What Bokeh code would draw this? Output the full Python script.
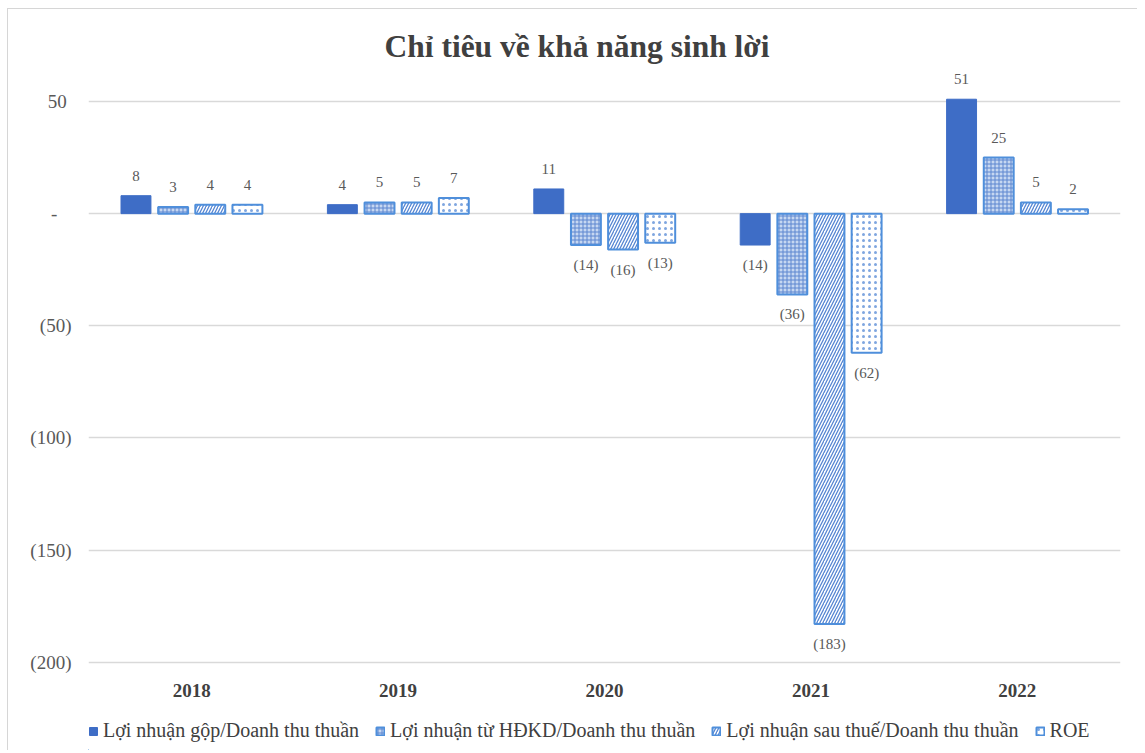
from bokeh.plotting import figure
from bokeh.models import (FactorRange, Range1d, ColumnDataSource, FixedTicker, Legend,
                          LegendItem)
from bokeh.layouts import column
from bokeh.transform import dodge
from bokeh.core.properties import value
from bokeh.embed import file_html
from bokeh.resources import INLINE

years = ["2018", "2019", "2020", "2021", "2022"]
series_names = [
    "Lợi nhuận gộp/Doanh thu thuần",
    "Lợi nhuận từ HĐKD/Doanh thu thuần",
    "Lợi nhuận sau thuế/Doanh thu thuần",
    "ROE",
]
gross_margin = [8, 4, 11, -14, 51]
operating_margin = [3, 5, -14, -36, 25]
net_margin = [4, 5, -16, -183, 5]
roe = [4, 7, -13, -62, 2]
tick_values = [50, 0, -50, -100, -150, -200]
tick_labels = ["50\u00a0", "-\u00a0\u00a0\u00a0", "(50)", "(100)", "(150)", "(200)"]

series_values = [gross_margin, operating_margin, net_margin, roe]
offsets = [-0.27, -0.09, 0.09, 0.27]
bar_w = 0.145

styles = [
    dict(fill_color="#3E6DC6", line_color="#3E6DC6", line_width=1),
    dict(fill_color="#C6D7F1", line_color="#4F8FDB", line_width=2,
         hatch_pattern="+", hatch_scale=4, hatch_color="#5B86D0", hatch_weight=1),
    dict(fill_color="white", line_color="#4F8FDB", line_width=2,
         hatch_pattern="/", hatch_scale=6, hatch_color="#5585D2", hatch_weight=1.3),
    dict(fill_color="white", line_color="#4F8FDB", line_width=2,
         hatch_pattern=".", hatch_scale=6, hatch_color="#7FA6E0", hatch_weight=0.8),
]

FONT = "Liberation Serif"

p = figure(
    x_range=FactorRange(*years),
    y_range=Range1d(-201, 64.7),
    frame_width=1032, frame_height=596,
    output_backend="svg", toolbar_location=None,
    min_border_left=80, min_border_right=17, min_border_top=59, min_border_bottom=42,
)
p.title.text = "Chỉ tiêu về khả năng sinh lời"
p.title.align = "left"
p.title.offset = 296
p.title.text_font = FONT
p.title.text_font_size = "31.5px"
p.title.text_font_style = "bold"
p.title.text_color = "#404040"
p.title.standoff = 9

p.outline_line_color = None
p.xgrid.grid_line_color = None
p.ygrid.grid_line_color = "#D9D9D9"
p.ygrid.grid_line_width = 1.5
p.yaxis.ticker = FixedTicker(ticks=tick_values)
p.yaxis.major_label_overrides = {v: s for v, s in zip(tick_values, tick_labels)}
for ax in (p.xaxis, p.yaxis):
    ax.axis_line_color = None
    ax.major_tick_line_color = None
    ax.minor_tick_line_color = None
p.yaxis.major_label_text_font = FONT
p.yaxis.major_label_text_font_size = "19px"
p.yaxis.major_label_text_color = "#595959"
p.yaxis.major_label_standoff = 11
p.xaxis.major_label_text_font = FONT
p.xaxis.major_label_text_font_size = "19px"
p.xaxis.major_label_text_font_style = "bold"
p.xaxis.major_label_text_color = "#404040"
p.xaxis.major_label_standoff = 13

for vals, off, st in zip(series_values, offsets, styles):
    labels = [str(v) if v >= 0 else f"({abs(v)})" for v in vals]
    src = ColumnDataSource(dict(year=years, val=vals, label=labels))
    p.vbar(x=dodge("year", off, range=p.x_range), top="val", bottom=0, width=bar_w,
           source=src, **st)
    pos = ColumnDataSource(dict(year=[y for y, v in zip(years, vals) if v >= 0],
                                val=[v for v in vals if v >= 0],
                                label=[l for l, v in zip(labels, vals) if v >= 0]))
    neg = ColumnDataSource(dict(year=[y for y, v in zip(years, vals) if v < 0],
                                val=[v for v in vals if v < 0],
                                label=[l for l, v in zip(labels, vals) if v < 0]))
    common = dict(text="label", text_font=value(FONT), text_font_size="15px",
                  text_color="#595959", text_align="center")
    p.text(x=dodge("year", off, range=p.x_range), y="val", source=pos,
           text_baseline="bottom", y_offset=-15, **common)
    p.text(x=dodge("year", off, range=p.x_range), y="val", source=neg,
           text_baseline="top", y_offset=12, **common)

# legend strip below the chart (its swatches use off-screen placeholder bars)
lg = figure(width=1129, height=44, x_range=Range1d(0, 1), y_range=Range1d(0, 1),
            x_axis_type=None, y_axis_type=None, output_backend="svg",
            toolbar_location=None, min_border=0)
lg.outline_line_color = None
lg.grid.visible = False
items = []
for name, st in zip(series_names, styles):
    r = lg.vbar(x=[-10], top=[-10], bottom=[-11], width=0.1, **st)
    items.append(LegendItem(label=name, renderers=[r]))
legend = Legend(items=items, orientation="horizontal", location=(0, 8),
                label_text_font=FONT, label_text_font_size="20px", label_text_color="#404040",
                glyph_width=10, glyph_height=10, label_standoff=5, spacing=16,
                label_height=22,
                border_line_color=None, background_fill_alpha=0, padding=0, margin=0)
lg.add_layout(legend)

layout = column(p, lg, spacing=0,
                styles={"margin-left": "7px", "margin-top": "8px",
                        "border-top": "1px solid #D6D6D6",
                        "border-left": "1px solid #D6D6D6"})
open("out.html", "w").write(file_html(layout, INLINE))
